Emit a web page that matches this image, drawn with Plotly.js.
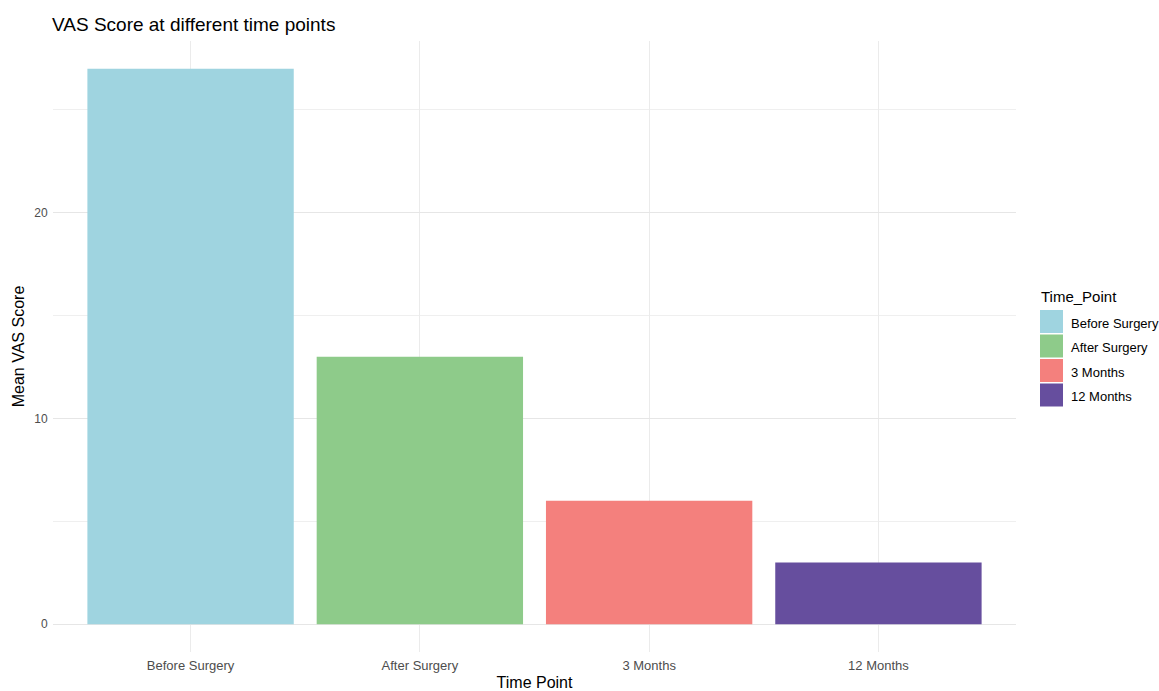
<!DOCTYPE html>
<html>
<head>
<meta charset="utf-8">
<script src="https://cdn.plot.ly/plotly-3.0.1.min.js"></script>
<style>html,body{margin:0;padding:0;background:#fff;}#chart{width:1159px;height:691px;}</style>
</head>
<body>
<div id="chart"></div>
<script>
const categories = ["Before Surgery", "After Surgery", "3 Months", "12 Months"];
const meanVAS = [27, 13, 6, 3];
const barColors = ["#9FD4E0", "#8ECB8A", "#F4807D", "#664E9E"];
const legendTitle = "Time_Point";

const FONT = "Liberation Sans, Arial, sans-serif";
const L = 53, R = 1016, T = 41, B = 652, W = 1159, H = 691;

const traces = categories.map((c, i) => ({
  type: "bar",
  x: [c],
  y: [meanVAS[i]],
  name: c,
  marker: {color: barColors[i], line: {width: 0}},
  width: 0.9,
  showlegend: false,
  hoverinfo: "x+y"
}));

const ymax = Math.max(...meanVAS);
const pad = ymax * 0.05;

// custom legend (ggplot-style large keys)
const px2x = px => (px - L) / (R - L);
const py2y = py => (B - py) / (B - T);
const shapes = [];
const annotations = [];
annotations.push({
  xref: "paper", yref: "paper", x: px2x(1039), y: py2y(296),
  xanchor: "left", yanchor: "middle", showarrow: false,
  text: legendTitle, font: {family: FONT, size: 15, color: "#000"}
});
categories.forEach((c, i) => {
  const top = 310 + i * 24.5;
  shapes.push({
    type: "rect", xref: "paper", yref: "paper",
    x0: px2x(1040), x1: px2x(1063), y0: py2y(top + 23), y1: py2y(top),
    fillcolor: barColors[i], line: {width: 0}
  });
  annotations.push({
    xref: "paper", yref: "paper", x: px2x(1069), y: py2y(top + 13),
    xanchor: "left", yanchor: "middle", showarrow: false,
    text: c, font: {family: FONT, size: 13, color: "#000"}
  });
});

const layout = {
  width: W, height: H,
  margin: {l: L, r: W - R, t: T, b: H - B, pad: 0},
  paper_bgcolor: "#fff", plot_bgcolor: "#fff",
  font: {family: FONT, color: "#000"},
  title: {text: "VAS Score at different time points", x: 52 / W, xanchor: "left", y: 1 - 24 / H, yanchor: "middle",
          font: {family: FONT, size: 19, color: "#000"}},
  bargap: 0.1,
  xaxis: {
    type: "category", range: [-0.6, categories.length - 0.4],
    showgrid: true, gridcolor: "#EBEBEB", gridwidth: 1,
    zeroline: false, showline: false, ticks: "outside", ticklen: 1, tickcolor: "#fff",
    tickfont: {family: FONT, size: 13, color: "#4D4D4D"},
    title: {text: "Time Point", font: {family: FONT, size: 16, color: "#000"}, standoff: 7}
  },
  yaxis: {
    range: [-pad, ymax + pad],
    tickvals: [0, 10, 20],
    showgrid: true, gridcolor: "#E6E6E6", gridwidth: 1,
    minor: {tickvals: [5, 15, 25], showgrid: true, gridcolor: "#EFEFEF", gridwidth: 1},
    zeroline: false, showline: false, ticks: "outside", ticklen: 2, tickcolor: "#fff",
    tickfont: {family: FONT, size: 12, color: "#4D4D4D"},
    title: {text: "Mean VAS Score", font: {family: FONT, size: 16, color: "#000"}, standoff: 5}
  },
  shapes: shapes,
  annotations: annotations,
  showlegend: false
};

Plotly.newPlot("chart", traces, layout, {displayModeBar: false, responsive: false});
</script>
</body>
</html>
